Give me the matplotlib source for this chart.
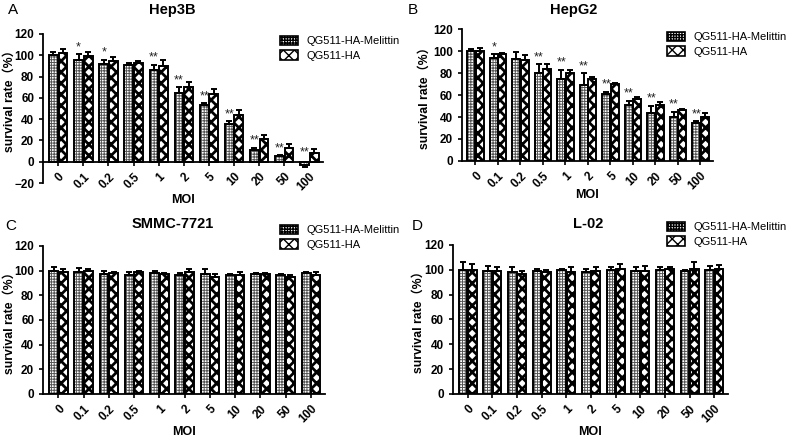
import numpy as np
import matplotlib
matplotlib.use("Agg")
import matplotlib.pyplot as plt
from matplotlib.patches import Patch

plt.rcParams['font.family'] = ['Liberation Sans', 'Noto Sans CJK SC', 'DejaVu Sans']

moi = ['0', '0.1', '0.2', '0.5', '1', '2', '5', '10', '20', '50', '100']
series_names = ['QG511-HA-Melittin', 'QG511-HA']

# Hep3B
hep3b_mel = [100, 96, 92, 91, 86, 65, 53, 35, 11, 5, -3]
hep3b_mel_err = [3, 5, 4, 2, 5, 5, 2, 3, 2, 1, 2]
hep3b_ha = [102, 99, 95, 93, 90, 70, 64, 44, 21, 13, 8]
hep3b_ha_err = [4, 4, 3, 2, 6, 5, 4, 5, 4, 4, 4]
hep3b_stars = ['', '*', '*', '', '**', '**', '**', '**', '**', '**', '**']

# HepG2
hepg2_mel = [100, 94, 93, 80, 75, 69, 61, 51, 44, 40, 35]
hepg2_mel_err = [2, 3, 6, 8, 8, 11, 2, 4, 6, 5, 1]
hepg2_ha = [100, 97, 92, 84, 80, 75, 70, 56, 51, 46, 40]
hepg2_ha_err = [3, 1, 4, 4, 3, 1, 1, 2, 3, 1, 4]
hepg2_stars = ['', '*', '', '**', '**', '**', '**', '**', '**', '**', '**']

# SMMC-7721
smmc_mel = [100, 99, 97, 96, 98, 96, 97, 96, 97, 96, 98]
smmc_mel_err = [3, 3, 3, 3, 2, 2, 4, 1, 1, 1, 1]
smmc_ha = [99, 100, 98, 99, 97, 99, 95, 96, 97, 95, 96]
smmc_ha_err = [2, 1, 1, 1, 1, 2, 2, 3, 1, 1, 3]

# L-02
l02_mel = [100, 99, 98, 99, 100, 98, 100, 99, 100, 99, 100]
l02_mel_err = [6, 4, 4, 2, 0.5, 3, 2, 3, 2, 0.5, 3]
l02_ha = [100, 99, 97, 98, 98, 99, 101, 99, 101, 101, 101]
l02_ha_err = [5, 3, 2, 2, 4, 3, 4, 4, 1, 5, 3]

panels = [
    dict(letter='A', title='Hep3B', mel=hep3b_mel, mel_err=hep3b_mel_err, ha=hep3b_ha,
         ha_err=hep3b_ha_err, stars=hep3b_stars, ylim=(-20, 120),
         rect=[0.054, 0.585, 0.35, 0.338], title_xy=(172, 10), letter_xy=(8, 10),
         leg_xy=(280, 36), xlab_y=200, ylab_xy=(-0.097, 0.571)),
    dict(letter='B', title='HepG2', mel=hepg2_mel, mel_err=hepg2_mel_err, ha=hepg2_ha,
         ha_err=hepg2_ha_err, stars=hepg2_stars, ylim=(0, 120),
         rect=[0.5775, 0.635, 0.3135, 0.299], title_xy=(574, 10), letter_xy=(408, 10),
         leg_xy=(667, 32), xlab_y=195, ylab_xy=(-0.124, 0.5)),
    dict(letter='C', title='SMMC-7721', mel=smmc_mel, mel_err=smmc_mel_err, ha=smmc_ha,
         ha_err=smmc_ha_err, stars=None, ylim=(0, 120),
         rect=[0.054, 0.1066, 0.352, 0.336], title_xy=(173, 224), letter_xy=(5, 226),
         leg_xy=(280, 225), xlab_y=432, ylab_xy=(-0.097, 0.5)),
    dict(letter='D', title='L-02', mel=l02_mel, mel_err=l02_mel_err, ha=l02_ha,
         ha_err=l02_ha_err, stars=None, ylim=(0, 120),
         rect=[0.566, 0.1066, 0.344, 0.338], title_xy=(588, 224), letter_xy=(412, 226),
         leg_xy=(667, 222), xlab_y=432, ylab_xy=(-0.102, 0.5)),
]

W, H = 800, 441
fig = plt.figure(figsize=(8, 4.41), dpi=100)

x = np.arange(len(moi))
bw = 0.35
off = 0.19

plt.rcParams['hatch.linewidth'] = 1.0
styles = {
    'mel': dict(edgecolor='#555555', hatch='++++++', hlw=0.7),
    'ha': dict(edgecolor='black', hatch='xxx', hlw=2.0),
}


def styled(patch, kind):
    st = styles[kind]
    if hasattr(patch, 'set_hatch_linewidth'):
        patch.set_hatch_linewidth(st['hlw'])


def draw_bars(ax, xs, vals, errs, kind):
    vals = np.array(vals, dtype=float)
    errs = np.array(errs, dtype=float)
    st = styles[kind]
    bars = ax.bar(xs, vals, bw, color='white', edgecolor=st['edgecolor'],
                  hatch=st['hatch'], linewidth=0, zorder=2)
    for b in bars:
        styled(b, kind)
    ax.bar(xs, vals, bw, fill=False, edgecolor='black', linewidth=1.4, zorder=3)
    lower = np.where(vals < 0, errs, 0)
    upper = np.where(vals < 0, 0, errs)
    ax.errorbar(xs, vals, yerr=[lower, upper], fmt='none', ecolor='black',
                elinewidth=1.4, capsize=2.5, capthick=1.4, zorder=4)


for p in panels:
    ax = fig.add_axes(p['rect'])
    for side in ['top', 'right']:
        ax.spines[side].set_visible(False)
    for side in ['left', 'bottom']:
        ax.spines[side].set_linewidth(1.3)
    if p['ylim'][0] < 0:
        ax.spines['bottom'].set_position(('data', 0))

    draw_bars(ax, x - off, p['mel'], p['mel_err'], 'mel')
    draw_bars(ax, x + off, p['ha'], p['ha_err'], 'ha')

    if p['stars']:
        for i, s in enumerate(p['stars']):
            if s:
                top = max(p['mel'][i], 0) + p['mel_err'][i]
                ax.text(x[i] - off, top + 1.0, s, ha='center', va='bottom',
                        fontsize=9, color='#222222')

    ax.set_xlim(-0.6, len(moi) - 0.45)
    ax.set_ylim(*p['ylim'])
    ax.set_yticks(np.arange(p['ylim'][0], 121, 20))
    ax.set_xticks(x)
    ax.set_xticklabels(moi, rotation=45, ha='right', rotation_mode='anchor')
    ax.tick_params(labelsize=8.5, width=1.2, length=3)
    for lab in ax.get_xticklabels() + ax.get_yticklabels():
        lab.set_fontweight('bold')

    ax.set_ylabel('survival rate（%）', fontsize=8.8, fontweight='bold')
    ax.yaxis.set_label_coords(*p['ylab_xy'])

    cx = p['rect'][0] + p['rect'][2] / 2
    fig.text(cx, 1 - p['xlab_y'] / H, 'MOI', ha='center', va='center',
             fontsize=9, fontweight='bold')
    fig.text(p['title_xy'][0] / W, 1 - p['title_xy'][1] / H, p['title'],
             ha='center', va='center', fontsize=10.5, fontweight='bold')
    fig.text(p['letter_xy'][0] / W, 1 - p['letter_xy'][1] / H, p['letter'],
             ha='left', va='center', fontsize=11)

    h1 = Patch(facecolor='white', edgecolor='black', hatch='++++++', linewidth=1.2)
    h2 = Patch(facecolor='white', edgecolor='black', hatch='xxx', linewidth=1.2)
    styled(h1, 'mel')
    styled(h2, 'ha')
    fig.legend([h1, h2], series_names, loc='upper left',
               bbox_to_anchor=(p['leg_xy'][0] / W, 1 - p['leg_xy'][1] / H),
               frameon=False, fontsize=8, handlelength=1.6, handleheight=0.9,
               handletextpad=0.8, labelspacing=0.35, borderaxespad=0, borderpad=0)

fig.savefig('out.png', dpi=100)
